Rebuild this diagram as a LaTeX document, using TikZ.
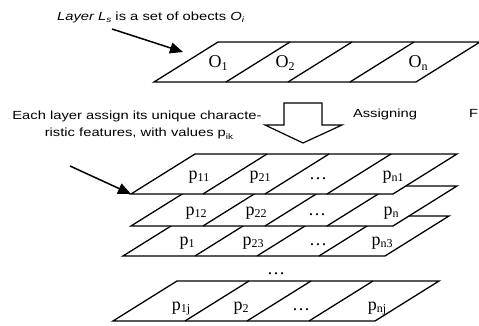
\documentclass[tikz,border=0pt]{standalone}
\usepackage{fontspec}
\setmainfont{Liberation Serif}
\newfontfamily\wsans[FakeStretch=1.25]{Liberation Sans}
\usetikzlibrary{arrows.meta}
\newcommand\lbsub[1]{\raisebox{-2.5pt}{\fontsize{12}{12}\selectfont #1}}
\newcommand\txsub[1]{\raisebox{-2pt}{\fontsize{8}{8}\selectfont #1}}
\tikzset{
  layer/.style={line width=1.3pt, draw=black, fill=white, line join=miter},
  divider/.style={line width=1.3pt, draw=black},
  lab/.style={inner sep=0pt, font=\fontsize{18}{18}\selectfont, anchor=base},
  sanstext/.style={inner sep=0pt, font=\wsans\fontsize{11.8}{14}\selectfont, anchor=base},
  pointer/.style={line width=1.5pt, -{Triangle[length=13pt,width=11pt]}},
  blockarrow/.style={line width=1.2pt, draw=black, fill=white}
}
\newcommand\drawlayer[2]{%
  \filldraw[layer] (#1,#2) -- ++(262,0) -- ++(64,-40) -- ++(-262,0) -- cycle;
  \foreach \d in {72,134,196} \draw[divider] ({#1+\d},#2) -- ++(64,-40);
}
\begin{document}
\begin{tikzpicture}[x=1pt,y=-1pt]
\useasboundingbox (0,0) rectangle (479,326);
\clip (0,0) rectangle (479,326);
\fill[white] (0,0) rectangle (479,326);

% top layer of objects
\drawlayer{154}{82}
\node[lab] (o1) at (218,68) {O\lbsub{1}};
\node[lab] (o2) at (285,68) {O\lbsub{2}};
\node[lab] (on) at (418,68) {O\lbsub{n}};

% text 1 and its arrow
\node[sanstext, anchor=base west] (t1) at (57,20.5) {\itshape Layer L\txsub{s}\upshape{} is a set of obects \itshape O\txsub{i}};
\coordinate (a1s) at (112,29);
\coordinate (a1e) at (183,52);
\draw[pointer] (a1s) -- (a1e);

% text 2
\node[sanstext] (t2a) at (137,120) {Each layer assign its unique characte-};
\node[sanstext] (t2b) at (139,137) {ristic features, with values p\txsub{ik}};

% block arrow
\draw[blockarrow] (284,103) -- (322,103) -- (322,125) -- (342,125) -- (303,143) -- (265,125) -- (284,125) -- cycle;
\node[sanstext] (asg) at (385,118) {Assigning};
\node[sanstext, anchor=base west] (fcut) at (469,118) {F};

% layer 4
\drawlayer{113}{321}
\node[lab] (p1j) at (181,310) {p\lbsub{1j}};
\node[lab] (p2) at (241,310) {p\lbsub{2}};
\node[lab] (d4) at (301,310) {\dots};
\node[lab] (pnj) at (377,310) {p\lbsub{nj}};

\node[lab] (vdots) at (276,274) {\dots};

% layer 3
\drawlayer{123}{256}
\node[lab] (p13) at (187,245) {p\lbsub{1}};
\node[lab] (p23) at (253,245) {p\lbsub{23}};
\node[lab] (d3) at (318,245) {\dots};
\node[lab] (pn3) at (382,245) {p\lbsub{n3}};

% layer 2
\drawlayer{131}{226}
\node[lab] (p12) at (196,215) {p\lbsub{12}};
\node[lab] (p22) at (256,215) {p\lbsub{22}};
\node[lab] (d2) at (317,215) {\dots};
\node[lab] (pn2) at (391,215) {p\lbsub{n}};

% layer 1
\drawlayer{131}{194}
\node[lab] (p11) at (199,179) {p\lbsub{11}};
\node[lab] (p21) at (260,179) {p\lbsub{21}};
\node[lab] (d1) at (318,179) {\dots};
\node[lab] (pn1) at (393,179) {p\lbsub{n1}};

% arrow 2
\coordinate (a2s) at (70,166);
\coordinate (a2e) at (131,194);
\draw[pointer] (a2s) -- (a2e);
\end{tikzpicture}
\end{document}
